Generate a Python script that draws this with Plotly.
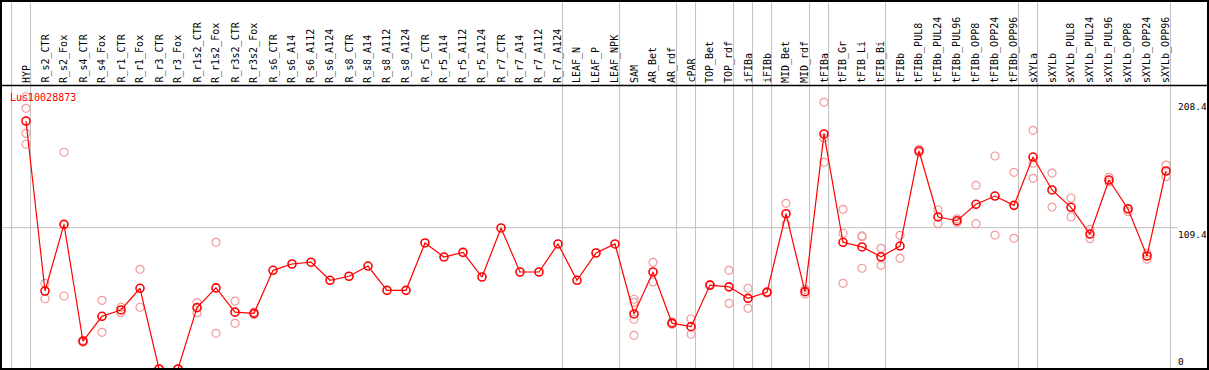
import plotly.graph_objects as go

categories = ["HYP", "R_s2_CTR", "R_s2_Fox", "R_s4_CTR", "R_s4_Fox", "R_r1_CTR", "R_r1_Fox",
              "R_r3_CTR", "R_r3_Fox", "R_r1s2_CTR", "R_r1s2_Fox", "R_r3s2_CTR", "R_r3s2_Fox",
              "R_s6_CTR", "R_s6_A14", "R_s6_A112", "R_s6_A124", "R_s8_CTR", "R_s8_A14",
              "R_s8_A112", "R_s8_A124", "R_r5_CTR", "R_r5_A14", "R_r5_A112", "R_r5_A124",
              "R_r7_CTR", "R_r7_A14", "R_r7_A112", "R_r7_A124", "LEAF_N", "LEAF_P", "LEAF_NPK",
              "SAM", "AR_Bet", "AR_rdf", "cPAR", "TOP_Bet", "TOP_rdf", "iFIBa", "iFIBb",
              "MID_Bet", "MID_rdf", "tFIBa", "tFIB_Gr", "tFIB_Li", "tFIB_Bi", "tFIBb",
              "tFIBb_PUL8", "tFIBb_PUL24", "tFIBb_PUL96", "tFIBb_OPP8", "tFIBb_OPP24",
              "tFIBb_OPP96", "sXYLa", "sXYLb", "sXYLb_PUL8", "sXYLb_PUL24", "sXYLb_PUL96",
              "sXYLb_OPP8", "sXYLb_OPP24", "sXYLb_OPP96"]

mean_values = [192.0, 60.4, 112.0, 21.5, 40.8, 45.7, 62.5, 0.0, 0.0, 47.5, 62.8, 44.0, 43.1,
               76.4, 81.3, 82.7, 68.7, 71.8, 79.7, 60.9, 60.9, 97.6, 86.7, 90.3, 71.2,
               109.2, 75.1, 75.1, 96.8, 68.7, 89.8, 96.8,
               42.6, 75.1, 35.5, 32.8, 65.0, 63.6, 54.7, 59.4, 120.2, 59.9,
               182.0, 98.1, 94.5, 86.9, 95.2, 168.8, 117.7, 114.8, 127.5, 133.9, 126.7,
               164.1, 138.6, 125.2, 104.5, 146.3, 123.9, 87.5, 153.3]

replicates = [[210.8, 201.8, 182.5, 174.0], [66.3, 54.4], [167.8, 56.5], [22.2, 20.8],
              [53.2, 28.4], [47.8, 43.6], [77.2, 47.8], [0.0, 0.0], [0.0, 0.0],
              [51.4, 43.6], [98.1, 27.6], [52.6, 35.4], [44.0, 42.2],
              [], [], [], [], [], [], [], [], [], [], [], [], [], [], [], [], [], [], [],
              [54.0, 51.6, 38.5, 26.1], [82.6, 67.4], [36.3, 34.7], [38.7, 26.9],
              [65.5, 64.5], [76.4, 50.8], [62.5, 47.0], [60.0, 58.8], [128.3, 112.0],
              [61.7, 58.0], [206.5, 178.6, 160.0], [123.6, 105.1, 66.3],
              [102.4, 103.0, 78.0], [93.4, 80.3], [103.5, 85.7], [170.0, 167.6],
              [123.1, 112.5], [116.3, 113.5], [142.2, 112.5], [164.9, 103.7],
              [152.3, 101.2], [184.8, 159.3, 147.6], [151.7, 125.4], [132.4, 117.7],
              [108.1, 100.9], [148.4, 144.8], [124.4, 121.8], [89.6, 84.9], [157.9, 148.9]]

group_ends = [-1, 0, 28, 31, 34, 35, 37, 38, 39, 41, 42, 45, 52, 53, 60]
y_tick_values = [208.4, 109.4, 0]
y_tick_labels = ["208.4", "109.4", "0"]
gene_name = "Lus10028873"

# geometry (pixels -> data)
W, H = 1209, 370
PX_PER_CAT = 19.0
X0_PX = 26.0          # pixel of first category
PX_PER_UNIT = 1.2916
BOTTOM_PX = 369.0
ML, MR, MT, MB = 1, 1, 1, 1

def xval(px):
    return (px - X0_PX) / PX_PER_CAT

def yval(px):
    return (BOTTOM_PX - px) / PX_PER_UNIT

x_range = [xval(ML), xval(W - MR)]
y_range = [yval(H - MB), yval(MT)]

FONT = "DejaVu Sans Mono"
idx = list(range(len(categories)))

rx, ry = [], []
for i, reps in enumerate(replicates):
    for v in reps:
        rx.append(i)
        ry.append(v)

fig = go.Figure()
fig.add_trace(go.Scatter(
    x=rx, y=ry, mode="markers",
    marker=dict(symbol="circle-open", size=8, color="#f09a9a", line=dict(width=1.2)),
    hoverinfo="skip", showlegend=False))
fig.add_trace(go.Scatter(
    x=idx, y=mean_values, mode="lines+markers",
    line=dict(color="#ff0000", width=1.2),
    marker=dict(symbol="circle-open", size=8, color="#ff0000", line=dict(width=1.6)),
    showlegend=False))

shapes = []
# group separators
for g in group_ends:
    shapes.append(dict(type="line", xref="x", yref="paper", x0=g + 0.24, x1=g + 0.24,
                       y0=0, y1=1, line=dict(color="#c0c0c0", width=1), layer="below"))
# horizontal grid at 109.4
shapes.append(dict(type="line", xref="x", yref="y", x0=x_range[0], x1=xval(1178),
                   y0=109.4, y1=109.4, line=dict(color="#c0c0c0", width=1), layer="below"))
# separator under category labels
shapes.append(dict(type="line", xref="paper", yref="y", x0=0, x1=1,
                   y0=yval(85.5), y1=yval(85.5), line=dict(color="black", width=1.5)))
# frame
shapes.append(dict(type="rect", xref="paper", yref="paper", x0=0, x1=1, y0=0, y1=1,
                   line=dict(color="black", width=2)))

annotations = []
for i, c in enumerate(categories):
    annotations.append(dict(x=i, y=yval(84), xref="x", yref="y", text=c, showarrow=False,
                            textangle=-90, xanchor="center", yanchor="bottom",
                            font=dict(family=FONT, size=10, color="black"), borderpad=0))
annotations.append(dict(x=xval(9), y=yval(97), xref="x", yref="y", text=gene_name,
                        showarrow=False, xanchor="left", yanchor="middle",
                        font=dict(family=FONT, size=10, color="#ff0000"), borderpad=0))
for v, t in zip(y_tick_values, y_tick_labels):
    annotations.append(dict(x=xval(1176.5), y=v if v > 0 else yval(368), xref="x", yref="y",
                            text=t, showarrow=False, xanchor="left",
                            yanchor="top" if v > 0 else "bottom",
                            font=dict(family=FONT, size=9.5, color="black"), borderpad=0))

fig.update_layout(
    width=W, height=H,
    margin=dict(l=ML, r=MR, t=MT, b=MB, pad=0),
    paper_bgcolor="white", plot_bgcolor="white",
    xaxis=dict(range=x_range, showgrid=False, zeroline=False, showticklabels=False,
               ticks="", fixedrange=True),
    yaxis=dict(range=y_range, showgrid=False, zeroline=False, showticklabels=False,
               ticks="", fixedrange=True),
    shapes=shapes, annotations=annotations, showlegend=False,
)

fig.write_html("out.html", config={"displayModeBar": False},
               post_script="document.body.style.margin='0';document.body.style.overflow='hidden';")
